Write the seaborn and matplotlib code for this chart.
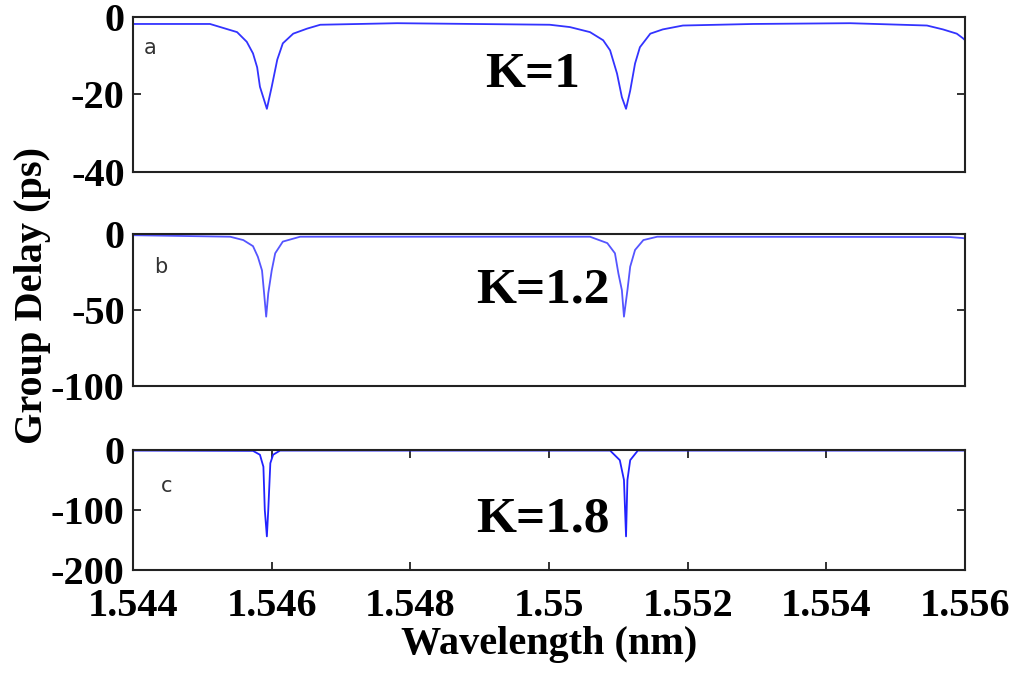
import matplotlib
matplotlib.use("Agg")
import matplotlib.pyplot as plt
import seaborn as sns
import pandas as pd

# ---- data ----
wl_a = [1.54400, 1.54511, 1.54550, 1.54564, 1.54573, 1.54579, 1.54583, 1.54593,
        1.54600, 1.54608, 1.54616, 1.54631, 1.54651, 1.54670, 1.54781, 1.55001,
        1.55030, 1.55059, 1.55078, 1.55088, 1.55098, 1.55105, 1.55111, 1.55117,
        1.55124, 1.55131, 1.55146, 1.55164, 1.55193, 1.55294, 1.55434, 1.55545,
        1.55568, 1.55588, 1.55597, 1.55600]
gd_a = [-1.8, -1.8, -3.9, -6.4, -9.4, -13.0, -18.0, -23.7,
        -18.0, -11.0, -6.8, -4.3, -3.0, -2.0, -1.6, -2.0,
        -2.6, -3.9, -6.0, -8.6, -14.6, -20.7, -23.7, -19.0,
        -12.0, -7.8, -4.3, -3.2, -2.2, -1.8, -1.6, -2.2,
        -3.2, -4.3, -5.5, -6.0]

wl_b = [1.54400, 1.54540, 1.54559, 1.54573, 1.54580, 1.54586, 1.54589, 1.54592,
        1.54595, 1.54600, 1.54605, 1.54616, 1.54641, 1.55059, 1.55084, 1.55095,
        1.55100, 1.55105, 1.55108, 1.55113, 1.55117, 1.55124, 1.55136, 1.55156,
        1.55578, 1.55597, 1.55600]
gd_b = [-0.8, -1.8, -4.0, -8.0, -15.0, -24.0, -39.0, -54.4,
        -39.0, -24.0, -12.7, -5.0, -1.8, -1.8, -6.0, -12.7,
        -26.0, -37.0, -54.4, -37.0, -21.5, -10.5, -4.0, -1.8,
        -2.0, -2.7, -3.0]

wl_c = [1.54400, 1.54573, 1.54583, 1.54588, 1.54590, 1.54593, 1.54595, 1.54598,
        1.54602, 1.54612, 1.55088, 1.55102, 1.55108, 1.55111, 1.55113, 1.55117,
        1.55128, 1.55600]
gd_c = [-1.0, -1.5, -8.0, -28.0, -100.0, -144.0, -100.0, -22.0,
        -8.0, -1.0, -1.0, -17.0, -50.0, -144.0, -50.0, -17.0,
        -1.0, -1.0]

panel_letters = ["a", "b", "c"]
k_labels = ["K=1", "K=1.2", "K=1.8"]
y_ticks = [[0, -20, -40], [0, -50, -100], [0, -100, -200]]
x_ticks = [1.544, 1.546, 1.548, 1.550, 1.552, 1.554, 1.556]
x_ticklabels = ["1.544", "1.546", "1.548", "1.55", "1.552", "1.554", "1.556"]

sns.set_style("ticks")
plt.rcParams["font.family"] = ["Liberation Serif", "DejaVu Serif"]
plt.rcParams["axes.unicode_minus"] = False

FS = 29

fig = plt.figure(figsize=(10.29, 6.8), dpi=100)
positions = [
    [0.1293, 0.7471, 0.8086, 0.2279],
    [0.1293, 0.4324, 0.8086, 0.2235],
    [0.1293, 0.1618, 0.8086, 0.1765],
]
series = [(wl_a, gd_a), (wl_b, gd_b), (wl_c, gd_c)]
line_colors = ["#3333ff", "#5555ff", "#2222ff"]
k_pos = [(0.48, 0.626), (0.493, 0.63), (0.493, 0.417)]
letter_pos = [(0.013, 0.80), (0.025, 0.78), (0.033, 0.70)]

axes = []
for i, pos in enumerate(positions):
    ax = fig.add_axes(pos)
    df = pd.DataFrame({"wl": series[i][0], "gd": series[i][1]})
    sns.lineplot(data=df, x="wl", y="gd", ax=ax, color=line_colors[i],
                 linewidth=1.3, sort=False, estimator=None)
    ax.set_xlim(1.544, 1.556)
    ax.set_ylim(y_ticks[i][-1], 0)
    ax.set_yticks(y_ticks[i])
    ax.set_yticklabels([str(t) for t in y_ticks[i]], fontsize=FS,
                       fontweight="bold")
    ax.set_xlabel("")
    ax.set_ylabel("")
    for s in ax.spines.values():
        s.set_visible(True)
        s.set_linewidth(1.5)
        s.set_color("#222222")
    ax.tick_params(direction="in", length=6, width=1.3, right=True, top=True,
                   pad=6, colors="#222222", labelcolor="black")
    if i < 2:
        ax.set_xticks([])
    else:
        ax.set_xticks(x_ticks)
        ax.set_xticklabels(x_ticklabels, fontsize=FS, fontweight="bold")
        ax.tick_params(axis="x", pad=13)
    ax.text(k_pos[i][0], k_pos[i][1], k_labels[i], transform=ax.transAxes,
            ha="center", va="center", fontsize=37, fontweight="bold",
            color="black")
    ax.text(letter_pos[i][0], letter_pos[i][1], panel_letters[i],
            transform=ax.transAxes, ha="left", va="center", fontsize=15,
            family=["DejaVu Sans"], color="#333333")
    axes.append(ax)

axes[2].set_xlabel("Wavelength (nm)", fontsize=FS, fontweight="bold",
                   labelpad=1, color="black")
fig.text(0.032, 0.565, "Group Delay (ps)", rotation=90, ha="center",
         va="center", fontsize=FS, fontweight="bold", color="black")

fig.savefig("out.png", dpi=100)
